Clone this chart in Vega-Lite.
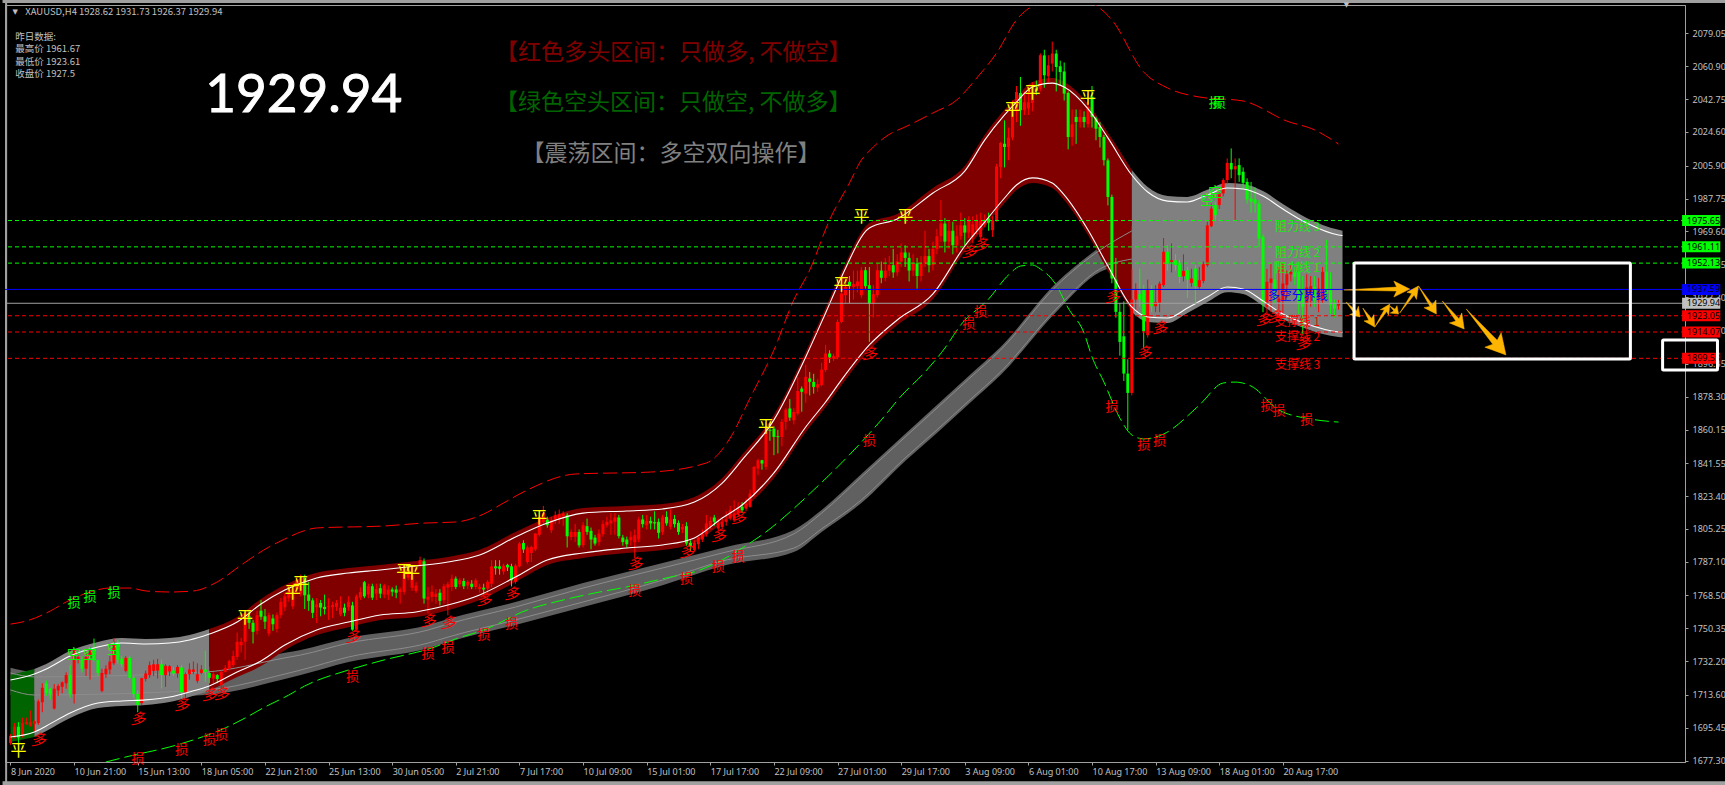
{"$schema":"https://vega.github.io/schema/vega-lite/v6.json","width":1680,"height":757,"autosize":{"type":"none"},"padding":{"left":5,"top":5,"right":40,"bottom":23},"background":"#000000",
"config":{"view":{"stroke":"#a0a0a0"},"axis":{"grid":false,"labelFont":"Noto Sans","labelFontSize":9,"labelColor":"#c0c0c0","domainColor":"#a0a0a0","tickColor":"#a0a0a0","tickSize":3,"labelBound":false,"labelFlush":false},"text":{"font":"Noto Sans CJK SC"}},
"datasets":{
"ribbon":[{"i":0,"t":1728.5,"u":1725.7,"l":1716.3,"b":1713.5},{"i":6,"t":1726.3,"u":1723.5,"l":1713.5,"b":1710.7},{"i":49,"t":1729,"u":1726.2,"l":1716.3,"b":1713.5},{"i":69,"t":1736.8,"u":1734,"l":1725.1,"b":1722.3},{"i":73,"t":1738.4,"u":1735.6,"l":1727.3,"b":1724.5},{"i":85,"t":1745,"u":1742.2,"l":1734.5,"b":1731.7},{"i":105,"t":1752.2,"u":1749.4,"l":1742.2,"b":1739.4},{"i":110,"t":1755.5,"u":1752.7,"l":1745.5,"b":1742.7},{"i":127,"t":1764.9,"u":1762.1,"l":1755,"b":1752.2},{"i":144,"t":1775.4,"u":1772.6,"l":1764.9,"b":1762.1},{"i":164,"t":1786.5,"u":1783.7,"l":1777,"b":1774.2},{"i":180,"t":1795.3,"u":1792.5,"l":1788.1,"b":1785.3},{"i":197,"t":1804.7,"u":1802.5,"l":1794.7,"b":1792.5},{"i":204,"t":1815.7,"u":1814,"l":1805.3,"b":1803.6},{"i":214,"t":1835.6,"u":1833.9,"l":1821.3,"b":1819.6},{"i":225,"t":1857.7,"u":1856,"l":1844.5,"b":1842.8},{"i":233,"t":1873.7,"u":1872,"l":1860,"b":1858.3},{"i":241,"t":1889.8,"u":1888.1,"l":1876,"b":1874.3},{"i":249,"t":1905.8,"u":1904.1,"l":1892,"b":1890.3},{"i":263,"t":1941.1,"u":1939.4,"l":1926.8,"b":1925.1},{"i":274,"t":1961,"u":1959.3,"l":1948.9,"b":1947.2},{"i":282,"t":1972.7,"u":1969.9,"l":1954.4,"b":1951.6}],
"band":[{"zone":"green","i":0,"t":1724.6,"u":1721.8,"l":1690.3,"b":1687.5},{"zone":"green","i":6,"t":1727.9,"u":1725.1,"l":1693.1,"b":1690.3},{"zone":"grey1","i":6,"t":1727.9,"u":1725.1,"l":1693.1,"b":1690.3},{"zone":"grey1","i":9,"t":1730.7,"u":1727.9,"l":1696.4,"b":1693.6},{"zone":"grey1","i":15,"t":1737.9,"u":1735.1,"l":1703.6,"b":1700.8},{"zone":"grey1","i":22,"t":1742.8,"u":1740,"l":1709.1,"b":1706.3},{"zone":"grey1","i":28,"t":1745,"u":1742.2,"l":1710.2,"b":1707.4},{"zone":"grey1","i":34,"t":1744.5,"u":1741.7,"l":1710.8,"b":1708},{"zone":"grey1","i":40,"t":1745,"u":1742.2,"l":1712.4,"b":1709.6},{"zone":"grey1","i":45,"t":1746.7,"u":1743.9,"l":1715.2,"b":1712.4},{"zone":"grey1","i":50,"t":1750,"u":1747.2,"l":1718.5,"b":1715.7},{"zone":"red","i":50,"t":1750,"u":1747.2,"l":1718.5,"b":1715.7},{"zone":"red","i":57,"t":1756.6,"u":1753.8,"l":1726.2,"b":1723.4},{"zone":"red","i":63,"t":1766.6,"u":1763.8,"l":1732.3,"b":1729.5},{"zone":"red","i":69,"t":1774.3,"u":1771.5,"l":1741.1,"b":1738.3},{"zone":"red","i":77,"t":1781,"u":1778.2,"l":1749.4,"b":1746.6},{"zone":"red","i":85,"t":1783.7,"u":1780.9,"l":1753.8,"b":1751},{"zone":"red","i":93,"t":1785.4,"u":1782.6,"l":1757.7,"b":1754.9},{"zone":"red","i":102,"t":1787.6,"u":1784.8,"l":1759.4,"b":1756.6},{"zone":"red","i":110,"t":1789.8,"u":1787,"l":1763.2,"b":1760.4},{"zone":"red","i":118,"t":1793.7,"u":1790.9,"l":1768.8,"b":1766},{"zone":"red","i":127,"t":1803.6,"u":1800.8,"l":1778.7,"b":1775.9},{"zone":"red","i":135,"t":1811.3,"u":1808.5,"l":1788.1,"b":1785.3},{"zone":"red","i":144,"t":1816.8,"u":1814,"l":1792,"b":1789.2},{"zone":"red","i":155,"t":1818,"u":1815.2,"l":1794.7,"b":1791.9},{"zone":"red","i":164,"t":1819.1,"u":1816.3,"l":1796.4,"b":1793.6},{"zone":"red","i":172,"t":1822.9,"u":1820.1,"l":1800.3,"b":1797.5},{"zone":"red","i":179,"t":1833.4,"u":1830.6,"l":1811.3,"b":1808.5},{"zone":"red","i":184,"t":1846.2,"u":1843.4,"l":1818.5,"b":1815.7},{"zone":"red","i":192,"t":1868.3,"u":1865.5,"l":1836.2,"b":1833.4},{"zone":"red","i":200,"t":1903.1,"u":1900.3,"l":1861.6,"b":1858.8},{"zone":"red","i":205,"t":1927.4,"u":1924.6,"l":1875.4,"b":1872.6},{"zone":"red","i":209,"t":1947.3,"u":1944.5,"l":1887.6,"b":1884.8},{"zone":"red","i":216,"t":1974.3,"u":1971.5,"l":1906.9,"b":1904.1},{"zone":"red","i":223,"t":1979.3,"u":1976.5,"l":1920.7,"b":1917.9},{"zone":"red","i":232,"t":1993.7,"u":1990.9,"l":1935.1,"b":1932.3},{"zone":"red","i":240,"t":2005.8,"u":2003,"l":1961.6,"b":1958.8},{"zone":"red","i":245,"t":2022.9,"u":2020.1,"l":1974.8,"b":1972},{"zone":"red","i":250,"t":2036.8,"u":2034,"l":1988.1,"b":1985.3},{"zone":"red","i":253,"t":2043.9,"u":2041.1,"l":1995.3,"b":1992.5},{"zone":"red","i":257,"t":2052.2,"u":2049.4,"l":1999.2,"b":1996.4},{"zone":"red","i":262,"t":2054.4,"u":2051.6,"l":1996.4,"b":1993.6},{"zone":"red","i":265,"t":2052.2,"u":2049.4,"l":1989.8,"b":1987},{"zone":"red","i":271,"t":2040.1,"u":2037.3,"l":1970.4,"b":1967.6},{"zone":"red","i":276,"t":2024.1,"u":2021.3,"l":1950.5,"b":1947.7},{"zone":"red","i":282,"t":2003.6,"u":2000.8,"l":1927.9,"b":1925.1},{"zone":"grey2","i":282,"t":2003.6,"u":2000.8,"l":1927.9,"b":1925.1},{"zone":"grey2","i":286,"t":1994.2,"u":1991.4,"l":1922.4,"b":1919.6},{"zone":"grey2","i":291,"t":1989.2,"u":1986.4,"l":1921.8,"b":1919},{"zone":"grey2","i":296,"t":1988.7,"u":1985.9,"l":1927.3,"b":1924.5},{"zone":"grey2","i":301,"t":1992.6,"u":1989.8,"l":1933.4,"b":1930.6},{"zone":"grey2","i":306,"t":1996.4,"u":1993.6,"l":1938.9,"b":1936.1},{"zone":"grey2","i":310,"t":1995.9,"u":1993.1,"l":1937.8,"b":1935},{"zone":"grey2","i":315,"t":1992,"u":1989.2,"l":1931.2,"b":1928.4},{"zone":"grey2","i":320,"t":1984.8,"u":1982,"l":1924,"b":1921.2},{"zone":"grey2","i":326,"t":1977.1,"u":1974.3,"l":1918.5,"b":1915.7},{"zone":"grey2","i":334,"t":1970.5,"u":1967.7,"l":1914.1,"b":1911.3},{"zone":"grey2","i":335,"t":1970,"u":1967.4,"l":1913.9,"b":1911.1}],
"upper":[{"i":0,"p":1752.7},{"i":4,"p":1754.4},{"i":10,"p":1759.9},{"i":14,"p":1764.9},{"i":20,"p":1770.4},{"i":25,"p":1772.6},{"i":30,"p":1772.6},{"i":34,"p":1771},{"i":40,"p":1770.4},{"i":46,"p":1771},{"i":52,"p":1776},{"i":58,"p":1785.3},{"i":65,"p":1795.3},{"i":69,"p":1799.7},{"i":73,"p":1803.6},{"i":77,"p":1805.8},{"i":94,"p":1806.9},{"i":104,"p":1808.5},{"i":112,"p":1809.1},{"i":119,"p":1813.5},{"i":124,"p":1819.6},{"i":130,"p":1826.8},{"i":142,"p":1835.6},{"i":161,"p":1836.7},{"i":175,"p":1841.7},{"i":181,"p":1855.5},{"i":186,"p":1877.6},{"i":192,"p":1904.1},{"i":197,"p":1931.8},{"i":201,"p":1948.3},{"i":206,"p":1976},{"i":211,"p":1996.4},{"i":214,"p":2009.1},{"i":216,"p":2014.1},{"i":220,"p":2021.8},{"i":226,"p":2028.4},{"i":232,"p":2035.1},{"i":238,"p":2042.3},{"i":243,"p":2054.4},{"i":248,"p":2068.2},{"i":253,"p":2086.5},{"i":258,"p":2095.8},{"i":265,"p":2103},{"i":271,"p":2097.5},{"i":277,"p":2086.5},{"i":285,"p":2057.7},{"i":291,"p":2048.9},{"i":299,"p":2043.9},{"i":310,"p":2041.7},{"i":321,"p":2030.6},{"i":328,"p":2025.7},{"i":334,"p":2017.9}],
"lower":[{"i":24,"p":1676.5},{"i":30,"p":1679.8},{"i":40,"p":1684.8},{"i":46,"p":1688.7},{"i":54,"p":1695.3},{"i":59,"p":1700.8},{"i":64,"p":1706.9},{"i":70,"p":1713.5},{"i":74,"p":1718.5},{"i":85,"p":1727.3},{"i":94,"p":1732.9},{"i":106,"p":1739.5},{"i":112,"p":1744.5},{"i":119,"p":1749.4},{"i":130,"p":1760.5},{"i":139,"p":1766},{"i":147,"p":1769.9},{"i":155,"p":1773.2},{"i":166,"p":1778.7},{"i":172,"p":1781.5},{"i":178,"p":1787},{"i":186,"p":1797.5},{"i":190,"p":1803.6},{"i":196,"p":1814.6},{"i":202,"p":1826.8},{"i":208,"p":1839.5},{"i":219,"p":1865.5},{"i":224,"p":1878.7},{"i":230,"p":1892},{"i":235,"p":1905.2},{"i":239,"p":1918},{"i":246,"p":1932.3},{"i":251,"p":1945.6},{"i":254,"p":1950.5},{"i":257,"p":1951.1},{"i":259,"p":1948.9},{"i":263,"p":1940},{"i":266,"p":1927.3},{"i":270,"p":1913.5},{"i":272,"p":1900.3},{"i":275,"p":1886.4},{"i":279,"p":1866.5},{"i":282,"p":1857.2},{"i":285,"p":1855},{"i":290,"p":1857.7},{"i":299,"p":1873.7},{"i":305,"p":1885.9},{"i":308,"p":1886.4},{"i":312,"p":1884.2},{"i":319,"p":1871},{"i":327,"p":1866},{"i":334,"p":1864.3}],
"levels":[{"kind":"res","p":1975.65,"label":"1975.65"},{"kind":"res","p":1961.11,"label":"1961.11"},{"kind":"res","p":1952.13,"label":"1952.13"},{"kind":"mid","p":1937.59,"label":"1937.59"},{"kind":"now","p":1929.94,"label":"1929.94"},{"kind":"sup","p":1923.05,"label":"1923.05"},{"kind":"sup","p":1914.07,"label":"1914.07"},{"kind":"sup","p":1899.53,"label":"1899.53"}],
"candles":[{"i":0,"o":1687,"h":1692,"l":1686,"c":1691},{"i":1,"o":1690,"h":1698,"l":1689.5,"c":1696},{"i":2,"o":1696,"h":1698.5,"l":1687,"c":1690},{"i":3,"o":1691,"h":1701,"l":1690,"c":1698},{"i":4,"o":1697.5,"h":1701,"l":1697,"c":1698.5},{"i":5,"o":1696.5,"h":1705,"l":1696,"c":1698.5},{"i":6,"o":1697.5,"h":1699.5,"l":1693.5,"c":1699},{"i":7,"o":1698,"h":1711,"l":1697,"c":1710},{"i":8,"o":1709.5,"h":1720,"l":1704,"c":1717.5},{"i":9,"o":1720,"h":1721.5,"l":1713,"c":1714.5},{"i":10,"o":1717,"h":1717.5,"l":1711,"c":1714},{"i":11,"o":1706,"h":1719.5,"l":1705.5,"c":1717},{"i":12,"o":1716,"h":1719.5,"l":1713,"c":1718.5},{"i":13,"o":1718,"h":1721,"l":1714.5,"c":1720.5},{"i":14,"o":1720,"h":1726,"l":1717,"c":1724.5},{"i":15,"o":1724.5,"h":1730,"l":1712,"c":1714},{"i":16,"o":1714,"h":1739,"l":1708.8,"c":1738.3},{"i":17,"o":1733,"h":1736,"l":1731,"c":1734.5},{"i":18,"o":1733,"h":1735,"l":1726,"c":1728},{"i":19,"o":1728,"h":1737,"l":1724,"c":1734.5},{"i":20,"o":1734,"h":1740,"l":1722,"c":1738},{"i":21,"o":1738,"h":1744.7,"l":1732,"c":1733},{"i":22,"o":1732.8,"h":1733,"l":1724,"c":1725.7},{"i":23,"o":1715.8,"h":1728,"l":1715,"c":1725.7},{"i":24,"o":1725,"h":1730,"l":1723,"c":1728},{"i":25,"o":1727.6,"h":1735,"l":1725,"c":1732},{"i":26,"o":1731,"h":1745,"l":1730,"c":1742},{"i":27,"o":1742,"h":1744,"l":1731,"c":1733},{"i":28,"o":1733.6,"h":1735,"l":1729,"c":1730.5},{"i":29,"o":1726.8,"h":1735,"l":1726,"c":1734},{"i":30,"o":1734,"h":1735,"l":1722,"c":1723},{"i":31,"o":1723,"h":1724,"l":1712,"c":1714},{"i":32,"o":1714,"h":1716,"l":1704,"c":1708},{"i":33,"o":1709,"h":1723,"l":1708,"c":1722.8},{"i":34,"o":1722.4,"h":1727,"l":1721,"c":1725.4},{"i":35,"o":1724.5,"h":1732,"l":1723,"c":1730},{"i":36,"o":1726.8,"h":1733,"l":1724,"c":1730.5},{"i":37,"o":1727,"h":1733.5,"l":1722.6,"c":1730.5},{"i":38,"o":1730.5,"h":1733,"l":1717,"c":1724.5},{"i":39,"o":1724.5,"h":1730.5,"l":1718,"c":1729.6},{"i":40,"o":1726.5,"h":1730,"l":1724,"c":1729.4},{"i":41,"o":1727,"h":1729,"l":1724,"c":1725.4},{"i":42,"o":1725.4,"h":1730,"l":1723,"c":1729},{"i":43,"o":1728.7,"h":1730,"l":1712,"c":1715},{"i":44,"o":1715,"h":1726,"l":1712,"c":1725},{"i":45,"o":1725,"h":1731,"l":1722,"c":1727.6},{"i":46,"o":1726.3,"h":1732,"l":1725,"c":1727.6},{"i":47,"o":1721.3,"h":1731,"l":1720,"c":1725},{"i":48,"o":1725.7,"h":1730,"l":1725,"c":1727.6},{"i":49,"o":1727.6,"h":1738,"l":1720.8,"c":1726.3},{"i":50,"o":1725.7,"h":1726,"l":1720,"c":1723},{"i":51,"o":1722.6,"h":1726,"l":1720,"c":1725},{"i":52,"o":1724.5,"h":1725,"l":1720,"c":1722.3},{"i":53,"o":1718.9,"h":1727,"l":1717,"c":1726.3},{"i":54,"o":1726.3,"h":1730,"l":1726,"c":1728.5},{"i":55,"o":1728.1,"h":1733,"l":1727,"c":1732.2},{"i":56,"o":1730,"h":1738,"l":1729,"c":1735},{"i":57,"o":1734.6,"h":1748,"l":1733,"c":1742.9},{"i":58,"o":1741,"h":1745,"l":1737,"c":1742.9},{"i":59,"o":1742.9,"h":1759,"l":1733,"c":1758.5},{"i":60,"o":1757,"h":1760,"l":1750,"c":1753.4},{"i":61,"o":1753.4,"h":1755,"l":1742,"c":1748.4},{"i":62,"o":1748.9,"h":1760,"l":1747,"c":1757.6},{"i":63,"o":1760,"h":1766,"l":1755,"c":1756.7},{"i":64,"o":1757,"h":1761,"l":1750,"c":1754},{"i":65,"o":1747.5,"h":1759,"l":1746,"c":1757.6},{"i":66,"o":1755.8,"h":1758,"l":1749,"c":1752.6},{"i":67,"o":1750,"h":1759,"l":1748,"c":1757.6},{"i":68,"o":1757.6,"h":1767,"l":1756,"c":1765},{"i":69,"o":1762,"h":1770,"l":1760,"c":1768},{"i":70,"o":1767,"h":1774,"l":1765,"c":1771.4},{"i":71,"o":1762.5,"h":1775,"l":1761,"c":1772.3},{"i":72,"o":1772,"h":1779,"l":1770,"c":1777},{"i":73,"o":1769.5,"h":1780,"l":1768,"c":1778.4},{"i":74,"o":1778.4,"h":1780,"l":1761,"c":1768.6},{"i":75,"o":1769,"h":1776,"l":1760,"c":1765.5},{"i":76,"o":1765.8,"h":1767,"l":1756,"c":1758.9},{"i":77,"o":1762,"h":1767,"l":1753.3,"c":1763.5},{"i":78,"o":1764.4,"h":1766,"l":1757,"c":1761.8},{"i":79,"o":1762.2,"h":1769,"l":1758,"c":1761},{"i":80,"o":1762,"h":1767,"l":1755,"c":1762.5},{"i":81,"o":1762,"h":1765,"l":1756,"c":1763.3},{"i":82,"o":1762.2,"h":1766,"l":1760,"c":1764.4},{"i":83,"o":1758,"h":1768,"l":1757,"c":1761.8},{"i":84,"o":1761.8,"h":1764,"l":1757,"c":1758.9},{"i":85,"o":1762,"h":1768,"l":1760,"c":1765},{"i":86,"o":1763,"h":1765,"l":1749,"c":1749.6},{"i":87,"o":1749.6,"h":1769,"l":1749,"c":1768},{"i":88,"o":1767.3,"h":1773,"l":1766,"c":1770.4},{"i":89,"o":1775.8,"h":1776.5,"l":1767,"c":1768},{"i":90,"o":1769,"h":1775,"l":1767,"c":1773.6},{"i":91,"o":1773.6,"h":1775,"l":1766,"c":1767.3},{"i":92,"o":1769.5,"h":1775,"l":1766,"c":1772},{"i":93,"o":1772.5,"h":1775,"l":1767,"c":1769.5},{"i":94,"o":1769,"h":1775,"l":1767,"c":1774},{"i":95,"o":1769,"h":1774,"l":1766,"c":1771.8},{"i":96,"o":1771.8,"h":1773,"l":1768,"c":1770.6},{"i":97,"o":1771.8,"h":1774,"l":1767,"c":1770},{"i":98,"o":1770.4,"h":1773,"l":1764,"c":1771.8},{"i":99,"o":1770.4,"h":1786,"l":1769,"c":1784.6},{"i":100,"o":1778.4,"h":1785,"l":1777,"c":1783.3},{"i":101,"o":1772.8,"h":1784,"l":1771,"c":1779.6},{"i":102,"o":1771,"h":1776,"l":1770,"c":1774},{"i":103,"o":1785.2,"h":1790,"l":1784,"c":1788},{"i":104,"o":1787.4,"h":1789,"l":1764,"c":1766.8},{"i":105,"o":1766.2,"h":1773,"l":1758.5,"c":1767.7},{"i":106,"o":1767.7,"h":1774,"l":1765,"c":1770.5},{"i":107,"o":1767.7,"h":1772,"l":1764,"c":1769.5},{"i":108,"o":1770,"h":1772,"l":1763,"c":1765.5},{"i":109,"o":1765.9,"h":1775,"l":1764,"c":1773.6},{"i":110,"o":1772.9,"h":1776,"l":1757.5,"c":1774.7},{"i":111,"o":1773.2,"h":1780,"l":1771,"c":1777.8},{"i":112,"o":1777.8,"h":1779,"l":1772,"c":1773.2},{"i":113,"o":1774.7,"h":1778,"l":1773,"c":1776.9},{"i":114,"o":1776.5,"h":1778,"l":1772,"c":1773.6},{"i":115,"o":1774,"h":1777,"l":1772,"c":1776},{"i":116,"o":1775,"h":1777,"l":1772,"c":1773.2},{"i":117,"o":1773.2,"h":1778,"l":1772,"c":1776.9},{"i":118,"o":1772,"h":1775,"l":1770,"c":1773.2},{"i":119,"o":1772.8,"h":1775,"l":1769,"c":1771.8},{"i":120,"o":1772.3,"h":1777,"l":1770,"c":1776},{"i":121,"o":1775,"h":1788,"l":1773,"c":1784.6},{"i":122,"o":1784.6,"h":1788,"l":1780,"c":1783.5},{"i":123,"o":1784.6,"h":1788,"l":1780,"c":1783.2},{"i":124,"o":1781.7,"h":1786,"l":1780,"c":1785},{"i":125,"o":1785.4,"h":1786,"l":1782,"c":1784},{"i":126,"o":1784.6,"h":1786,"l":1773.5,"c":1776.9},{"i":127,"o":1776,"h":1786,"l":1775,"c":1785},{"i":128,"o":1784.6,"h":1798,"l":1784,"c":1797.2},{"i":129,"o":1797.5,"h":1799,"l":1792,"c":1793.9},{"i":130,"o":1787,"h":1796,"l":1786,"c":1795},{"i":131,"o":1792,"h":1796,"l":1787,"c":1795.3},{"i":132,"o":1793.9,"h":1803,"l":1793,"c":1802.7},{"i":133,"o":1802,"h":1813,"l":1801,"c":1811.9},{"i":134,"o":1809,"h":1818,"l":1808,"c":1814},{"i":135,"o":1810.4,"h":1812,"l":1806,"c":1807.3},{"i":136,"o":1804.5,"h":1812,"l":1803,"c":1810},{"i":137,"o":1810,"h":1815,"l":1808,"c":1812.8},{"i":138,"o":1811,"h":1816,"l":1808,"c":1813.4},{"i":139,"o":1812.3,"h":1815,"l":1807,"c":1813.8},{"i":140,"o":1812.8,"h":1814,"l":1795,"c":1801.2},{"i":141,"o":1800.8,"h":1805,"l":1799,"c":1803.6},{"i":142,"o":1801,"h":1808,"l":1798,"c":1803.6},{"i":143,"o":1803.6,"h":1805,"l":1795,"c":1796.2},{"i":144,"o":1796.3,"h":1809,"l":1795,"c":1807.3},{"i":145,"o":1806.8,"h":1811,"l":1802,"c":1803.6},{"i":146,"o":1804.2,"h":1806,"l":1794,"c":1799.4},{"i":147,"o":1800.5,"h":1802,"l":1796,"c":1797.2},{"i":148,"o":1798,"h":1805,"l":1796,"c":1802.7},{"i":149,"o":1802.4,"h":1810,"l":1801,"c":1807.9},{"i":150,"o":1807.3,"h":1812,"l":1806,"c":1809.2},{"i":151,"o":1808.3,"h":1814,"l":1802,"c":1810},{"i":152,"o":1809.2,"h":1814,"l":1802,"c":1811.6},{"i":153,"o":1811.6,"h":1813,"l":1800,"c":1801.3},{"i":154,"o":1800.5,"h":1802,"l":1796,"c":1798},{"i":155,"o":1799.4,"h":1801,"l":1795,"c":1796.8},{"i":156,"o":1799,"h":1804,"l":1796,"c":1800.9},{"i":157,"o":1798,"h":1805,"l":1789,"c":1801.8},{"i":158,"o":1799.4,"h":1812,"l":1798,"c":1810.5},{"i":159,"o":1810.5,"h":1813,"l":1806,"c":1807.9},{"i":160,"o":1807.3,"h":1813,"l":1805,"c":1809.7},{"i":161,"o":1809.7,"h":1812,"l":1805,"c":1808.3},{"i":162,"o":1809,"h":1815,"l":1805,"c":1808.3},{"i":163,"o":1809.2,"h":1811,"l":1800,"c":1803.1},{"i":164,"o":1803.6,"h":1813,"l":1802,"c":1811.6},{"i":165,"o":1811.9,"h":1815,"l":1807,"c":1808.3},{"i":166,"o":1806.4,"h":1816,"l":1805,"c":1810.5},{"i":167,"o":1810.8,"h":1813,"l":1806,"c":1807.9},{"i":168,"o":1808.6,"h":1810,"l":1802,"c":1803.6},{"i":169,"o":1805,"h":1808,"l":1803,"c":1806.4},{"i":170,"o":1806.8,"h":1809,"l":1796,"c":1797.2},{"i":171,"o":1797.6,"h":1799,"l":1793,"c":1795.7},{"i":172,"o":1793.5,"h":1799,"l":1793,"c":1797.6},{"i":173,"o":1796.8,"h":1801,"l":1794,"c":1800.5},{"i":174,"o":1799.4,"h":1805,"l":1798,"c":1802.7},{"i":175,"o":1802.4,"h":1813,"l":1801,"c":1808.3},{"i":176,"o":1806.4,"h":1812,"l":1805,"c":1809.7},{"i":177,"o":1811.6,"h":1813,"l":1807,"c":1809.2},{"i":178,"o":1805.5,"h":1811,"l":1804,"c":1808.3},{"i":179,"o":1806.4,"h":1811,"l":1805,"c":1809.2},{"i":180,"o":1809.2,"h":1815,"l":1807,"c":1810.5},{"i":181,"o":1811,"h":1818,"l":1810,"c":1815.6},{"i":182,"o":1810,"h":1821,"l":1809,"c":1813.8},{"i":183,"o":1813.8,"h":1820,"l":1812,"c":1816.5},{"i":184,"o":1817.5,"h":1820,"l":1814,"c":1815.6},{"i":185,"o":1816.5,"h":1822,"l":1815,"c":1819.3},{"i":186,"o":1817.5,"h":1827,"l":1817,"c":1824.8},{"i":187,"o":1824.8,"h":1840,"l":1823,"c":1839.5},{"i":188,"o":1838.6,"h":1844,"l":1835,"c":1843.2},{"i":189,"o":1843.2,"h":1843.5,"l":1838,"c":1841.4},{"i":190,"o":1839.5,"h":1864,"l":1838,"c":1859.8},{"i":191,"o":1860,"h":1862,"l":1854,"c":1859.5},{"i":192,"o":1860.7,"h":1862,"l":1846,"c":1856.1},{"i":193,"o":1856.5,"h":1860,"l":1847,"c":1856},{"i":194,"o":1856.1,"h":1866,"l":1851,"c":1864.4},{"i":195,"o":1864.4,"h":1872,"l":1860,"c":1871.2},{"i":196,"o":1871.8,"h":1877,"l":1865,"c":1866.8},{"i":197,"o":1865.3,"h":1872,"l":1863,"c":1869.9},{"i":198,"o":1869,"h":1889,"l":1868,"c":1881.5},{"i":199,"o":1882.8,"h":1884,"l":1870,"c":1881},{"i":200,"o":1880,"h":1896,"l":1875,"c":1889.3},{"i":201,"o":1888.4,"h":1892,"l":1879,"c":1886.5},{"i":202,"o":1886.5,"h":1891,"l":1880,"c":1883.7},{"i":203,"o":1883.4,"h":1888,"l":1881,"c":1885.2},{"i":204,"o":1884.7,"h":1897,"l":1884,"c":1893.3},{"i":205,"o":1893,"h":1907,"l":1892,"c":1902.2},{"i":206,"o":1902.2,"h":1904,"l":1897,"c":1900},{"i":207,"o":1899.4,"h":1902,"l":1898,"c":1900.7},{"i":208,"o":1900,"h":1921,"l":1899,"c":1919.6},{"i":209,"o":1919.6,"h":1940,"l":1919,"c":1935.3},{"i":210,"o":1934.4,"h":1943,"l":1930,"c":1939},{"i":211,"o":1941.8,"h":1945,"l":1930,"c":1939.4},{"i":212,"o":1939,"h":1948,"l":1932,"c":1940.5},{"i":213,"o":1939.4,"h":1948,"l":1936,"c":1942},{"i":214,"o":1934.4,"h":1950,"l":1933,"c":1948.2},{"i":215,"o":1948.2,"h":1950,"l":1938,"c":1939.4},{"i":216,"o":1939.9,"h":1950,"l":1908.6,"c":1929.8},{"i":217,"o":1929.8,"h":1940,"l":1922,"c":1935},{"i":218,"o":1934.4,"h":1952,"l":1933,"c":1948.2},{"i":219,"o":1948,"h":1953,"l":1941,"c":1944},{"i":220,"o":1944,"h":1955,"l":1942,"c":1948},{"i":221,"o":1948,"h":1956,"l":1945,"c":1951},{"i":222,"o":1951,"h":1960,"l":1944,"c":1947},{"i":223,"o":1947,"h":1957,"l":1945,"c":1953},{"i":224,"o":1953,"h":1963,"l":1950,"c":1958},{"i":225,"o":1958,"h":1962,"l":1950,"c":1955},{"i":226,"o":1955,"h":1958,"l":1942,"c":1948},{"i":227,"o":1948,"h":1957,"l":1945,"c":1952},{"i":228,"o":1952,"h":1955,"l":1938,"c":1945},{"i":229,"o":1945,"h":1956,"l":1942,"c":1952},{"i":230,"o":1952,"h":1970,"l":1950,"c":1956},{"i":231,"o":1956,"h":1960,"l":1947,"c":1951},{"i":232,"o":1951,"h":1964,"l":1948,"c":1960},{"i":233,"o":1960,"h":1971,"l":1957,"c":1967},{"i":234,"o":1967,"h":1987,"l":1964,"c":1974},{"i":235,"o":1974,"h":1977,"l":1958,"c":1964},{"i":236,"o":1964,"h":1976,"l":1960,"c":1970},{"i":237,"o":1970,"h":1975,"l":1957,"c":1962},{"i":238,"o":1962,"h":1973,"l":1958,"c":1967},{"i":239,"o":1967,"h":1980,"l":1965,"c":1973},{"i":240,"o":1973,"h":1977,"l":1962,"c":1969},{"i":241,"o":1969,"h":1978,"l":1966,"c":1976},{"i":242,"o":1966.6,"h":1978,"l":1963,"c":1973.6},{"i":243,"o":1970.3,"h":1979,"l":1968,"c":1975.8},{"i":244,"o":1966.6,"h":1980,"l":1965,"c":1975.8},{"i":245,"o":1973.6,"h":1979,"l":1972,"c":1975.8},{"i":246,"o":1976.8,"h":1980,"l":1970,"c":1974.4},{"i":247,"o":1970.3,"h":1978,"l":1966.6,"c":1975.8},{"i":248,"o":1975.8,"h":2007,"l":1975,"c":2005.6},{"i":249,"o":2005.2,"h":2019,"l":1999,"c":2018.5},{"i":250,"o":2018.1,"h":2031,"l":2005,"c":2016.3},{"i":251,"o":2016.3,"h":2027,"l":2009,"c":2021.5},{"i":252,"o":2021.5,"h":2042,"l":2020,"c":2036.6},{"i":253,"o":2036.6,"h":2050,"l":2030,"c":2046.7},{"i":254,"o":2046.1,"h":2055,"l":2028,"c":2036.6},{"i":255,"o":2036.6,"h":2047,"l":2034,"c":2041},{"i":256,"o":2037.5,"h":2048,"l":2034,"c":2041},{"i":257,"o":2040.6,"h":2052,"l":2036,"c":2049.5},{"i":258,"o":2048.6,"h":2053,"l":2045,"c":2047.4},{"i":259,"o":2048.5,"h":2068,"l":2047,"c":2067},{"i":260,"o":2066.9,"h":2070,"l":2049,"c":2055.9},{"i":261,"o":2055.4,"h":2067,"l":2052,"c":2061.4},{"i":262,"o":2062.4,"h":2074.5,"l":2058,"c":2067.9},{"i":263,"o":2067.9,"h":2070,"l":2047,"c":2060.5},{"i":264,"o":2060.9,"h":2064,"l":2050,"c":2057.7},{"i":265,"o":2058,"h":2063,"l":2042,"c":2045.8},{"i":266,"o":2046.1,"h":2047,"l":2015,"c":2021.8},{"i":267,"o":2021.8,"h":2037,"l":2017,"c":2028.8},{"i":268,"o":2032.9,"h":2037,"l":2018,"c":2030.1},{"i":269,"o":2030.1,"h":2037,"l":2027,"c":2032.9},{"i":270,"o":2032.9,"h":2036,"l":2027,"c":2030.1},{"i":271,"o":2029,"h":2046,"l":2027,"c":2038.4},{"i":272,"o":2044,"h":2050,"l":2027,"c":2032.9},{"i":273,"o":2032,"h":2033,"l":2020,"c":2026.4},{"i":274,"o":2027.4,"h":2030,"l":2016,"c":2021.8},{"i":275,"o":2021.8,"h":2023,"l":2006,"c":2009},{"i":276,"o":2008.9,"h":2010,"l":1984,"c":1988.7},{"i":277,"o":1988.7,"h":1990,"l":1941,"c":1943.6},{"i":278,"o":1943,"h":1955,"l":1922,"c":1925.2},{"i":279,"o":1925.2,"h":1930,"l":1901,"c":1908.6},{"i":280,"o":1911.7,"h":1931,"l":1887,"c":1891.1},{"i":281,"o":1891.1,"h":1899,"l":1860,"c":1880.4},{"i":282,"o":1880.4,"h":1949,"l":1879,"c":1932},{"i":283,"o":1932,"h":1941,"l":1925,"c":1937.2},{"i":284,"o":1935,"h":1949,"l":1928,"c":1932},{"i":285,"o":1937.2,"h":1940,"l":1905,"c":1914.5},{"i":286,"o":1912.3,"h":1943,"l":1911,"c":1937.2},{"i":287,"o":1937.2,"h":1940,"l":1925,"c":1928.3},{"i":288,"o":1928.3,"h":1940,"l":1925,"c":1930.7},{"i":289,"o":1930.2,"h":1942,"l":1925,"c":1940.8},{"i":290,"o":1940,"h":1966,"l":1939,"c":1958.4},{"i":291,"o":1958.4,"h":1962,"l":1948,"c":1951.9},{"i":292,"o":1952.8,"h":1963,"l":1947,"c":1953.7},{"i":293,"o":1953.7,"h":1957,"l":1948,"c":1951},{"i":294,"o":1951.5,"h":1954,"l":1941,"c":1944.5},{"i":295,"o":1944.9,"h":1957,"l":1942,"c":1947.8},{"i":296,"o":1948.2,"h":1950,"l":1933,"c":1943},{"i":297,"o":1941.2,"h":1949,"l":1939,"c":1943.6},{"i":298,"o":1949.1,"h":1951,"l":1929,"c":1939.4},{"i":299,"o":1939,"h":1950,"l":1938,"c":1942.7},{"i":300,"o":1942.3,"h":1953,"l":1941,"c":1951.5},{"i":301,"o":1951,"h":1975,"l":1950,"c":1973},{"i":302,"o":1972.5,"h":1985,"l":1972,"c":1982.3},{"i":303,"o":1984.2,"h":1986,"l":1976,"c":1978.6},{"i":304,"o":1984.2,"h":1994,"l":1982,"c":1990.6},{"i":305,"o":1990.6,"h":1999,"l":1989,"c":1998},{"i":306,"o":1998,"h":2010,"l":1996,"c":2007.5},{"i":307,"o":2007.5,"h":2015.5,"l":1999,"c":2003.9},{"i":308,"o":2003.9,"h":2010,"l":1976,"c":2005.7},{"i":309,"o":2006.3,"h":2010,"l":1997,"c":2000.7},{"i":310,"o":2002.6,"h":2005,"l":1993,"c":1996.5},{"i":311,"o":1997,"h":1999,"l":1985,"c":1987.3},{"i":312,"o":1987.8,"h":1997,"l":1980,"c":1986},{"i":313,"o":1987.3,"h":1994,"l":1980,"c":1985},{"i":314,"o":1985,"h":1987,"l":1961,"c":1965.7},{"i":315,"o":1966.7,"h":1968,"l":1925,"c":1929.8},{"i":316,"o":1928,"h":1949,"l":1924,"c":1941.8},{"i":317,"o":1941.2,"h":1952,"l":1925,"c":1943.6},{"i":318,"o":1943,"h":1953,"l":1930,"c":1937.5},{"i":319,"o":1930.7,"h":1950,"l":1923,"c":1932.6},{"i":320,"o":1931.7,"h":1952,"l":1922,"c":1940.9},{"i":321,"o":1940,"h":1948,"l":1933,"c":1946},{"i":322,"o":1946,"h":1951,"l":1942,"c":1947.3},{"i":323,"o":1946.8,"h":1950,"l":1940,"c":1944.5},{"i":324,"o":1947.3,"h":1953,"l":1924,"c":1929.8},{"i":325,"o":1935.3,"h":1945,"l":1913,"c":1928},{"i":326,"o":1929.8,"h":1946,"l":1915,"c":1938.7},{"i":327,"o":1936.3,"h":1945,"l":1928,"c":1939.4},{"i":328,"o":1939,"h":1945,"l":1928,"c":1931.7},{"i":329,"o":1933.5,"h":1944,"l":1925,"c":1938},{"i":330,"o":1931.7,"h":1950,"l":1930,"c":1947.3},{"i":331,"o":1947.3,"h":1965,"l":1932,"c":1935.3},{"i":332,"o":1938,"h":1947,"l":1924,"c":1928.9},{"i":333,"o":1929.8,"h":1932,"l":1922,"c":1927},{"i":334,"o":1928.62,"h":1931.73,"l":1926.37,"c":1929.94}],
"arrows":[{"a":1,"k":1,"i":335.4,"p":1937.3},{"a":1,"k":2,"i":348.6,"p":1938.9},{"a":1,"k":3,"i":347.9,"p":1942.2},{"a":1,"k":4,"i":351.9,"p":1937.8},{"a":1,"k":5,"i":347.9,"p":1933.4},{"a":1,"k":6,"i":348.6,"p":1936.7},{"a":1,"k":7,"i":335.4,"p":1937.3},{"a":2,"k":1,"i":335.9,"p":1930.6},{"a":2,"k":2,"i":337.9,"p":1924.6},{"a":2,"k":3,"i":336.8,"p":1923.7},{"a":2,"k":4,"i":339.4,"p":1922.4},{"a":2,"k":5,"i":339,"p":1928.3},{"a":2,"k":6,"i":338.5,"p":1925.7},{"a":2,"k":7,"i":335.9,"p":1930.6},{"a":3,"k":1,"i":340.1,"p":1927.3},{"a":3,"k":2,"i":341.6,"p":1920.6},{"a":3,"k":3,"i":340.4,"p":1920.2},{"a":3,"k":4,"i":343.1,"p":1916.8},{"a":3,"k":5,"i":342.9,"p":1923.7},{"a":3,"k":6,"i":342.3,"p":1921.5},{"a":3,"k":7,"i":340.1,"p":1927.3},{"a":4,"k":1,"i":343.1,"p":1916.8},{"a":4,"k":2,"i":346.1,"p":1925.4},{"a":4,"k":3,"i":346.6,"p":1923.3},{"a":4,"k":4,"i":346.9,"p":1929.5},{"a":4,"k":5,"i":344.5,"p":1926.4},{"a":4,"k":6,"i":345.5,"p":1926.3},{"a":4,"k":7,"i":343.1,"p":1916.8},{"a":5,"k":1,"i":346.9,"p":1928.4},{"a":5,"k":2,"i":347.9,"p":1925.7},{"a":5,"k":3,"i":347,"p":1924.5},{"a":5,"k":4,"i":349.1,"p":1924},{"a":5,"k":5,"i":348.7,"p":1928.6},{"a":5,"k":6,"i":348.2,"p":1926.6},{"a":5,"k":7,"i":346.9,"p":1928.4},{"a":6,"k":1,"i":349.4,"p":1924.6},{"a":6,"k":2,"i":353,"p":1934.5},{"a":6,"k":3,"i":353.6,"p":1932.1},{"a":6,"k":4,"i":354.1,"p":1939.5},{"a":6,"k":5,"i":351.2,"p":1936},{"a":6,"k":6,"i":352.4,"p":1935.4},{"a":6,"k":7,"i":349.4,"p":1924.6},{"a":7,"k":1,"i":354.1,"p":1939.5},{"a":7,"k":2,"i":357,"p":1928.2},{"a":7,"k":3,"i":355.5,"p":1927.5},{"a":7,"k":4,"i":358.6,"p":1924},{"a":7,"k":5,"i":358.5,"p":1931.7},{"a":7,"k":6,"i":357.6,"p":1929.1},{"a":7,"k":7,"i":354.1,"p":1939.5},{"a":8,"k":1,"i":360.1,"p":1931.2},{"a":8,"k":2,"i":363.5,"p":1920.1},{"a":8,"k":3,"i":361.9,"p":1919.1},{"a":8,"k":4,"i":365.6,"p":1915.7},{"a":8,"k":5,"i":365,"p":1924.6},{"a":8,"k":6,"i":364.3,"p":1921.4},{"a":8,"k":7,"i":360.1,"p":1931.2},{"a":9,"k":1,"i":366.1,"p":1926.8},{"a":9,"k":2,"i":372.8,"p":1907.3},{"a":9,"k":3,"i":370.8,"p":1905.7},{"a":9,"k":4,"i":376.1,"p":1901.4},{"a":9,"k":5,"i":374.9,"p":1913.7},{"a":9,"k":6,"i":373.9,"p":1909.5},{"a":9,"k":7,"i":366.1,"p":1926.8}]
},
"layer":[
{"data":{"values":[{"p":2096.7}]},"mark":{"type":"rule","color":"#a0a0a0","strokeWidth":3},"encoding":{"x":{"datum":-2},"x2":{"datum":432},"y":{"field":"p","type":"quantitative"}}},
{"data":{"values":[{"p":1664.8}]},"mark":{"type":"rule","color":"#a0a0a0","strokeWidth":4},"encoding":{"x":{"datum":-2},"x2":{"datum":432},"y":{"field":"p","type":"quantitative"}}},
{"data":{"values":[{"i":-1.1,"p":2098,"p2":1660}]},"mark":{"type":"rule","color":"#a0a0a0","strokeWidth":2},"encoding":{"x":{"field":"i","type":"quantitative"},"y":{"field":"p","type":"quantitative"},"y2":{"field":"p2"}}},
{"data":{"name":"ribbon"},"mark":{"type":"area","color":"#606060","interpolate":"monotone","clip":true},"encoding":{"x":{"field":"i","type":"quantitative","title":null,"scale":{"domain":[-0.125,419.875],"nice":false,"zero":false},"axis":{"orient":"bottom","title":null,"tickCount":40,"values":[0,16,32,48,64,80,96,112,128,144,160,176,192,208,224,240,256,272,288,304,320],"labelExpr":"['8 Jun 2020','10 Jun 21:00','15 Jun 13:00','18 Jun 05:00','22 Jun 21:00','25 Jun 13:00','30 Jun 05:00','2 Jul 21:00','7 Jul 17:00','10 Jul 09:00','15 Jul 01:00','17 Jul 17:00','22 Jul 09:00','27 Jul 01:00','29 Jul 17:00','3 Aug 09:00','6 Aug 01:00','10 Aug 17:00','13 Aug 09:00','18 Aug 01:00','20 Aug 17:00'][datum.value/16]","labelAlign":"left","labelPadding":2,"labelAngle":0,"labelOverlap":false}},"y":{"field":"t","type":"quantitative","title":null,"scale":{"domain":[1676.49,2094.74],"nice":false,"zero":false},"axis":{"orient":"right","title":null,"tickCount":40,"values":[2079.05,2060.9,2042.75,2024.6,2005.9,1987.75,1969.6,1951.45,1933.3,1914.7,1896.55,1878.3,1860.15,1841.55,1823.4,1805.25,1787.1,1768.5,1750.35,1732.2,1713.6,1695.45,1677.3],"format":".2f","labelPadding":4,"labelOverlap":false}},"y2":{"field":"b"}}},
{"data":{"name":"band"},"mark":{"type":"area","interpolate":"monotone","clip":true},"encoding":{"x":{"field":"i","type":"quantitative"},"y":{"field":"t","type":"quantitative"},"y2":{"field":"b"},"color":{"field":"zone","type":"nominal","legend":null,"scale":{"domain":["green","grey1","red","grey2","res","mid","now","sup"],"range":["#006400","#808080","#800000","#808080","#00ff00","#0000ff","#c0c0c0","#ff0000"]}}}},
{"data":{"name":"ribbon"},"mark":{"type":"line","color":"#8c8c8c","strokeWidth":1,"interpolate":"monotone","clip":true},"encoding":{"x":{"field":"i","type":"quantitative"},"y":{"field":"u","type":"quantitative"}}},
{"data":{"name":"ribbon"},"mark":{"type":"line","color":"#8c8c8c","strokeWidth":1,"interpolate":"monotone","clip":true},"encoding":{"x":{"field":"i","type":"quantitative"},"y":{"field":"l","type":"quantitative"}}},
{"data":{"name":"upper"},"mark":{"type":"line","color":"#ff0000","strokeWidth":1,"strokeDash":[14,5],"interpolate":"monotone","clip":true},"encoding":{"x":{"field":"i","type":"quantitative"},"y":{"field":"p","type":"quantitative"}}},
{"data":{"name":"lower"},"mark":{"type":"line","color":"#00ff00","strokeWidth":1,"strokeDash":[14,5],"interpolate":"monotone","clip":true},"encoding":{"x":{"field":"i","type":"quantitative"},"y":{"field":"p","type":"quantitative"}}},
{"data":{"name":"candles"},"mark":{"type":"rule","strokeWidth":1,"clip":true},"encoding":{"x":{"field":"i","type":"quantitative"},"y":{"field":"h","type":"quantitative"},"y2":{"field":"l"},"color":{"condition":{"test":"datum.c>=datum.o","value":"#ff0000"},"value":"#00ff00"}}},
{"data":{"name":"candles"},"mark":{"type":"bar","orient":"vertical","size":3,"clip":true},"encoding":{"x":{"field":"i","type":"quantitative"},"y":{"field":"o","type":"quantitative"},"y2":{"field":"c"},"color":{"condition":{"test":"datum.c>=datum.o","value":"#ff0000"},"value":"#00ff00"}}},
{"data":{"name":"band"},"mark":{"type":"line","color":"#ffffff","strokeWidth":1.1,"interpolate":"monotone","clip":true},"encoding":{"x":{"field":"i","type":"quantitative"},"y":{"field":"u","type":"quantitative"}}},
{"data":{"name":"band"},"mark":{"type":"line","color":"#ffffff","strokeWidth":1.1,"interpolate":"monotone","clip":true},"encoding":{"x":{"field":"i","type":"quantitative"},"y":{"field":"l","type":"quantitative"}}},
{"data":{"name":"levels"},"transform":[{"filter":"datum.kind=='res'"}],"mark":{"type":"rule","color":"#00ff00","strokeWidth":1,"strokeDash":[4,3]},"encoding":{"y":{"field":"p","type":"quantitative"}}},
{"data":{"name":"levels"},"transform":[{"filter":"datum.kind=='sup'"}],"mark":{"type":"rule","color":"#ff0000","strokeWidth":1,"strokeDash":[4,3]},"encoding":{"y":{"field":"p","type":"quantitative"}}},
{"data":{"name":"levels"},"transform":[{"filter":"datum.kind=='mid'"}],"mark":{"type":"rule","color":"#0000ff","strokeWidth":1},"encoding":{"y":{"field":"p","type":"quantitative"}}},
{"data":{"name":"levels"},"transform":[{"filter":"datum.kind=='now'"}],"mark":{"type":"rule","color":"#a0a0a0","strokeWidth":1},"encoding":{"y":{"field":"p","type":"quantitative"}}},
{"data":{"values":[{"i":318,"p":1972.1,"t":"阻力线 3"},{"i":318,"p":1957.7,"t":"阻力线 2"},{"i":318,"p":1949.4,"t":"阻力线 1"}]},"mark":{"type":"text","color":"#00ff00","fontSize":12,"align":"left","opacity":0.8},"encoding":{"x":{"field":"i","type":"quantitative"},"y":{"field":"p","type":"quantitative"},"text":{"field":"t"}}},
{"data":{"values":[{"i":316.2,"p":1934,"t":"多空分界线"}]},"mark":{"type":"text","color":"#0000ff","fontSize":12,"align":"left"},"encoding":{"x":{"field":"i","type":"quantitative"},"y":{"field":"p","type":"quantitative"},"text":{"field":"t"}}},
{"data":{"values":[{"i":318,"p":1919.6,"t":"支撑线 1"},{"i":318,"p":1911.3,"t":"支撑线 2"},{"i":318,"p":1895.8,"t":"支撑线 3"}]},"mark":{"type":"text","color":"#ff0000","fontSize":12,"align":"left"},"encoding":{"x":{"field":"i","type":"quantitative"},"y":{"field":"p","type":"quantitative"},"text":{"field":"t"}}},
{"data":{"values":[{"i":7,"p":1688.7},{"i":32,"p":1700.3},{"i":43,"p":1708},{"i":50,"p":1713.5},{"i":53,"p":1714.1},{"i":86,"p":1745.6},{"i":105,"p":1754.4},{"i":110,"p":1753.3},{"i":119,"p":1766},{"i":126,"p":1769.3},{"i":157,"p":1785.9},{"i":170,"p":1792.5},{"i":178,"p":1801.4},{"i":183,"p":1811.3},{"i":216,"p":1901.9},{"i":244,"p":1962.1},{"i":241,"p":1958.3},{"i":277,"p":1933.4},{"i":285,"p":1902.5},{"i":289,"p":1916.3},{"i":315,"p":1920.7},{"i":318,"p":1922.4},{"i":325,"p":1907.4}]},"mark":{"type":"text","color":"#ff0000","fontSize":15,"fontStyle":"italic","text":"多"},"encoding":{"x":{"field":"i","type":"quantitative"},"y":{"field":"p","type":"quantitative"}}},
{"data":{"values":[{"i":32,"p":1678.2},{"i":43,"p":1683.1},{"i":50,"p":1688.6},{"i":53,"p":1691.4},{"i":86,"p":1723.5},{"i":105,"p":1736.2},{"i":110,"p":1739.5},{"i":119,"p":1746.7},{"i":126,"p":1752.7},{"i":157,"p":1771},{"i":170,"p":1777.6},{"i":178,"p":1784.2},{"i":183,"p":1789.8},{"i":216,"p":1853.8},{"i":241,"p":1918.5},{"i":244,"p":1925.1},{"i":277,"p":1872.6},{"i":285,"p":1851.6},{"i":289,"p":1853.8},{"i":316,"p":1873.2},{"i":319,"p":1870.4},{"i":326,"p":1865.4}]},"mark":{"type":"text","color":"#ff0000","fontSize":13,"text":"损"},"encoding":{"x":{"field":"i","type":"quantitative"},"y":{"field":"p","type":"quantitative"}}},
{"data":{"values":[{"i":16,"p":1764.3},{"i":20,"p":1767.7},{"i":26,"p":1769.9},{"i":303,"p":2040.6},{"i":304,"p":2040.6}]},"mark":{"type":"text","color":"#00ff00","fontSize":13,"text":"损"},"encoding":{"x":{"field":"i","type":"quantitative"},"y":{"field":"p","type":"quantitative"}}},
{"data":{"values":[{"i":16,"p":1735.6},{"i":20,"p":1735.6},{"i":26,"p":1738.4},{"i":303,"p":1990.9},{"i":301,"p":1986.4}]},"mark":{"type":"text","color":"#00ff00","fontSize":14,"text":"空"},"encoding":{"x":{"field":"i","type":"quantitative"},"y":{"field":"p","type":"quantitative"}}},
{"data":{"values":[{"i":2,"p":1682.6},{"i":59,"p":1756},{"i":71,"p":1769.9},{"i":73,"p":1774.8},{"i":99,"p":1781.5},{"i":101,"p":1780.9},{"i":133,"p":1811.3},{"i":190,"p":1861.6},{"i":209,"p":1940},{"i":214,"p":1977.6},{"i":225,"p":1977.6},{"i":252,"p":2036.7},{"i":257,"p":2046.1},{"i":271,"p":2043.4}]},"mark":{"type":"text","color":"#ffff00","fontSize":16,"text":"平"},"encoding":{"x":{"field":"i","type":"quantitative"},"y":{"field":"p","type":"quantitative"}}},
{"data":{"name":"arrows"},"mark":{"type":"line","color":"#ffb400","fill":"#ffb400","strokeWidth":0.5,"clip":false},"encoding":{"x":{"field":"i","type":"quantitative"},"y":{"field":"p","type":"quantitative"},"detail":{"field":"a"},"order":{"field":"k","type":"quantitative"}}},
{"data":{"values":[{"i":337.9,"i2":407.4,"p":1952.2,"p2":1899.2}]},"mark":{"type":"rect","fill":null,"fillOpacity":0,"stroke":"#ffffff","strokeWidth":3,"cornerRadius":1},"encoding":{"x":{"field":"i","type":"quantitative"},"x2":{"field":"i2"},"y":{"field":"p","type":"quantitative"},"y2":{"field":"p2"}}},
{"data":{"name":"levels"},"mark":{"type":"rule","strokeWidth":11},"encoding":{"x":{"datum":420.4},"x2":{"datum":430},"y":{"field":"p","type":"quantitative"},"color":{"field":"kind","type":"nominal","legend":null,"scale":{"domain":["green","grey1","red","grey2","res","mid","now","sup"],"range":["#006400","#808080","#800000","#808080","#00ff00","#0000ff","#c0c0c0","#ff0000"]}}}},
{"data":{"name":"levels"},"mark":{"type":"text","color":"#000000","font":"Noto Sans","fontSize":9,"align":"left"},"encoding":{"x":{"datum":421.6},"y":{"field":"p","type":"quantitative"},"text":{"field":"label"}}},
{"data":{"values":[{"i":415.5,"i2":429.3,"p":1909.6,"p2":1893.1}]},"mark":{"type":"rect","fill":null,"fillOpacity":0,"stroke":"#ffffff","strokeWidth":3,"cornerRadius":1},"encoding":{"x":{"field":"i","type":"quantitative"},"x2":{"field":"i2"},"y":{"field":"p","type":"quantitative"},"y2":{"field":"p2"}}},
{"data":{"values":[{"i":49,"p":2044.5,"t":"1929.94"}]},"mark":{"type":"text","color":"#ffffff","stroke":"#ffffff","strokeWidth":1,"font":"Lato","fontSize":53,"align":"left"},"encoding":{"x":{"field":"i","type":"quantitative"},"y":{"field":"p","type":"quantitative"},"text":{"field":"t"}}},
{"data":{"values":[{"i":166.7,"p":2068,"t":"【红色多头区间：只做多, 不做空】"}]},"mark":{"type":"text","color":"#800000","fontSize":23},"encoding":{"x":{"field":"i","type":"quantitative"},"y":{"field":"p","type":"quantitative"},"text":{"field":"t"}}},
{"data":{"values":[{"i":166.7,"p":2040.5,"t":"【绿色空头区间：只做空, 不做多】"}]},"mark":{"type":"text","color":"#006400","fontSize":23},"encoding":{"x":{"field":"i","type":"quantitative"},"y":{"field":"p","type":"quantitative"},"text":{"field":"t"}}},
{"data":{"values":[{"i":166.1,"p":2012.3,"t":"【震荡区间：多空双向操作】"}]},"mark":{"type":"text","color":"#808080","fontSize":23},"encoding":{"x":{"field":"i","type":"quantitative"},"y":{"field":"p","type":"quantitative"},"text":{"field":"t"}}},
{"data":{"values":[{"i":3.7,"p":2090.6,"t":"XAUUSD,H4  1928.62 1931.73 1926.37 1929.94"},{"i":1.2,"p":2077,"t":"昨日数据:"},{"i":1.2,"p":2070.2,"t":"最高价 1961.67"},{"i":1.2,"p":2063.2,"t":"最低价 1923.61"},{"i":1.2,"p":2056.6,"t":"收盘价 1927.5"}]},"mark":{"type":"text","color":"#c0c0c0","fontSize":9.5,"align":"left"},"encoding":{"x":{"field":"i","type":"quantitative"},"y":{"field":"p","type":"quantitative"},"text":{"field":"t"}}},
{"data":{"values":[{"i":1.2,"p":2090.6,"t":"▼"},{"i":336,"p":2094.5,"t":"▼"}]},"mark":{"type":"text","color":"#c0c0c0","font":"DejaVu Sans","fontSize":7},"encoding":{"x":{"field":"i","type":"quantitative"},"y":{"field":"p","type":"quantitative"},"text":{"field":"t"}}}
]}
